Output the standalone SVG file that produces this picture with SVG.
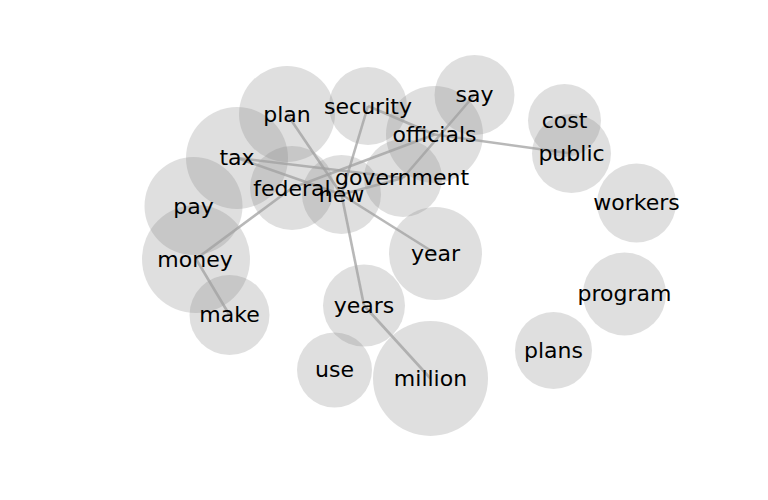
<svg xmlns="http://www.w3.org/2000/svg" width="768" height="500" viewBox="0 0 768 500">
<style>
.n circle{fill:#808080;fill-opacity:0.25;stroke:none}
.n text{font-family:"DejaVu Sans",sans-serif;font-size:22px;fill:#000;text-anchor:middle}
#edges line{stroke:#a0a0a0;stroke-opacity:0.75;stroke-width:2.6}
</style>
<rect width="768" height="500" fill="#fff"/>
<g id="circles" class="n">
<circle cx="287" cy="114" r="48"/>
<circle cx="368" cy="106" r="39"/>
<circle cx="474.5" cy="95" r="40"/>
<circle cx="434.5" cy="134.5" r="48.5"/>
<circle cx="237" cy="158" r="51"/>
<circle cx="292" cy="188" r="42"/>
<circle cx="341.5" cy="194.5" r="39.5"/>
<circle cx="403" cy="178" r="39"/>
<circle cx="193.5" cy="206" r="49"/>
<circle cx="196" cy="259" r="54"/>
<circle cx="229.5" cy="315" r="40"/>
<circle cx="435.5" cy="253.5" r="46.5"/>
<circle cx="364" cy="305.5" r="41"/>
<circle cx="334.5" cy="370" r="37.5"/>
<circle cx="430.5" cy="378.5" r="57.5"/>
<circle cx="564.5" cy="120.5" r="36.5"/>
<circle cx="571.5" cy="153.5" r="39.5"/>
<circle cx="636.5" cy="203" r="39.5"/>
<circle cx="624.5" cy="294" r="41.5"/>
<circle cx="553.5" cy="350.5" r="38.5"/>
</g>
<g id="edges">
<line x1="287" y1="114" x2="341.5" y2="194.5"/>
<line x1="368" y1="106" x2="341.5" y2="194.5"/>
<line x1="368" y1="106" x2="434.5" y2="134.5"/>
<line x1="474.5" y1="95" x2="403" y2="178"/>
<line x1="434.5" y1="134.5" x2="292" y2="188"/>
<line x1="434.5" y1="134.5" x2="571.5" y2="153.5"/>
<line x1="237" y1="158" x2="403" y2="178"/>
<line x1="237" y1="158" x2="341.5" y2="194.5"/>
<line x1="341.5" y1="194.5" x2="403" y2="178"/>
<line x1="341.5" y1="194.5" x2="435.5" y2="253.5"/>
<line x1="341.5" y1="194.5" x2="364" y2="305.5"/>
<line x1="364" y1="305.5" x2="430.5" y2="378.5"/>
<line x1="196" y1="259" x2="292" y2="188"/>
<line x1="196" y1="259" x2="229.5" y2="315"/>
</g>
<g class="n">
<g id="plan"><text x="287" y="121.5">plan</text></g>
<g id="security"><text x="368" y="113.5">security</text></g>
<g id="say"><text x="474.5" y="102">say</text></g>
<g id="officials"><text x="434.5" y="142">officials</text></g>
<g id="tax"><text x="237" y="165">tax</text></g>
<g id="federal"><text x="292" y="195.5">federal</text></g>
<g id="new"><text x="341.5" y="202">new</text></g>
<g id="government"><text x="402" y="184.5">government</text></g>
<g id="pay"><text x="193.5" y="213.5">pay</text></g>
<g id="money"><text x="195" y="266.5">money</text></g>
<g id="make"><text x="229.5" y="322">make</text></g>
<g id="year"><text x="435.5" y="260.5">year</text></g>
<g id="years"><text x="364" y="312.5">years</text></g>
<g id="use"><text x="334.5" y="377">use</text></g>
<g id="million"><text x="430.5" y="385.5">million</text></g>
<g id="cost"><text x="564.5" y="127.5">cost</text></g>
<g id="public"><text x="571.5" y="160.5">public</text></g>
<g id="workers"><text x="636.5" y="210">workers</text></g>
<g id="program"><text x="624.5" y="301">program</text></g>
<g id="plans"><text x="553.5" y="358">plans</text></g>
</g>
</svg>
